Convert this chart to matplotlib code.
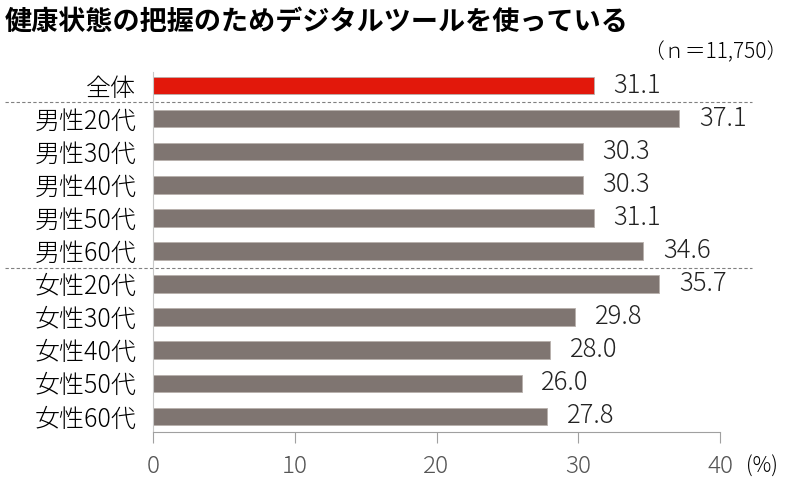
import matplotlib.pyplot as plt
import matplotlib.transforms as mtransforms
import numpy as np

plt.rcParams['font.family'] = ['Noto Sans CJK JP', 'DejaVu Sans']

# data
labels = ['全体', '男性20代', '男性30代', '男性40代', '男性50代', '男性60代',
          '女性20代', '女性30代', '女性40代', '女性50代', '女性60代']
values = [31.1, 37.1, 30.3, 30.3, 31.1, 34.6, 35.7, 29.8, 28.0, 26.0, 27.8]
title = '健康状態の把握のためデジタルツールを使っている'
note = '（ｎ＝11,750）'
xticks = [0, 10, 20, 30, 40]

red = '#e2180b'
gray = '#7f7571'
colors = [red] + [gray] * (len(values) - 1)

fig = plt.figure(figsize=(8, 4.9), dpi=100)
ax = fig.add_axes([0.19125, 0.1184, 0.70875, 0.7347])

y = np.arange(len(labels))
ax.barh(y, values, height=0.52, color=colors, edgecolor='#b8b0ac', linewidth=0.6)

for yi, v in zip(y, values):
    ax.text(v + 1.4, yi, f'{v:.1f}', va='center', ha='left', fontsize=18.5,
            color='#222222', fontweight='light')

ax.set_xlim(0, 40)
ax.set_ylim(10.48, -0.42)
ax.set_yticks(y)
ax.set_yticklabels(labels, fontsize=18, fontweight='light')
ax.tick_params(axis='y', length=0, pad=12)
ax.set_xticks(xticks)
ax.set_xticklabels([str(t) for t in xticks], fontsize=17.5, color='#555555',
                   fontweight='light')
ax.tick_params(axis='x', direction='out', length=8, width=0.8, color='#a0a0a0', pad=8)

for s in ['top', 'right']:
    ax.spines[s].set_visible(False)
ax.spines['left'].set_color('#c8c8c8')
ax.spines['bottom'].set_color('#a0a0a0')

# dashed separators between groups
trans = mtransforms.blended_transform_factory(fig.transFigure, ax.transData)
for sep in [0.5, 5.5]:
    ax.plot([0.006, 0.94], [sep, sep], transform=trans, clip_on=False,
            color='#808080', linestyle=(0, (3, 2)), linewidth=0.8)

fig.text(0.006, 0.955, title, fontsize=19.5, fontweight='bold', va='center', ha='left')
fig.text(0.985, 0.893, note, fontsize=15, va='center', ha='right', fontweight='light')
fig.text(0.933, 0.047, '(%)', fontsize=15, va='center', ha='left', fontweight='light')

fig.savefig('out.png', dpi=100)
